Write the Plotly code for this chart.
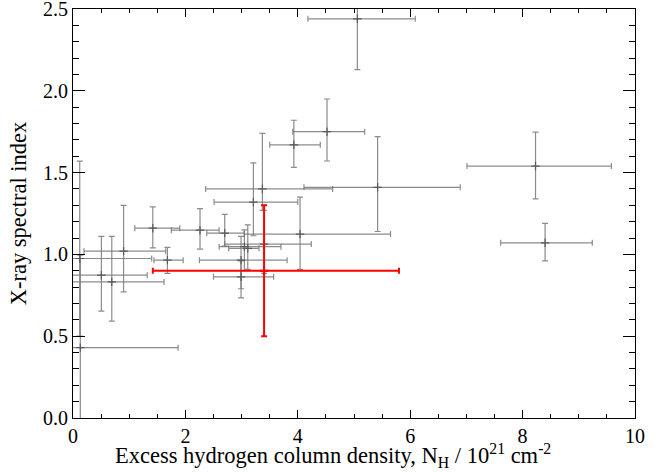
import plotly.graph_objects as go

# Gray sample: centre, x error range, y error range
nh      = [5.06, 4.52, 3.93, 8.23, 5.42, 3.37, 3.21, 4.04, 2.26, 2.70, 8.40, 1.42, 0.90, 0.505, 0.69, 1.68, 0.12, 0.13, 3.40, 3.11, 3.05, 2.99, 2.99]
gamma   = [2.44, 1.75, 1.67, 1.54, 1.41, 1.40, 1.32, 1.124, 1.148, 1.13, 1.071, 1.16, 1.02, 0.873, 0.832, 0.965, 0.975, 0.43, 1.063, 1.037, 1.047, 0.965, 0.863]
nh_lo   = [4.18, 3.91, 3.50, 7.01, 4.11, 2.36, 2.51, 3.05, 1.75, 2.38, 7.61, 1.10, 0.196, -0.10, -0.10, 1.44, -0.10, -0.10, 2.70, 2.77, 2.60, 2.25, 2.50]
nh_hi   = [6.09, 5.19, 4.40, 9.58, 6.89, 4.62, 4.00, 5.65, 2.60, 3.05, 9.24, 1.90, 1.65, 1.32, 1.62, 1.96, 1.40, 1.87, 4.24, 3.31, 3.70, 3.81, 3.57]
gam_lo  = [2.13, 1.571, 1.532, 1.34, 1.14, 1.27, 1.114, 0.908, 1.032, 1.05, 0.96, 1.04, 0.771, 0.653, 0.592, 0.884, 0.50, -0.10, 0.884, 0.908, 0.90, 0.79, 0.734]
gam_hi  = [2.78, 1.95, 1.82, 1.748, 1.72, 1.74, 1.56, 1.35, 1.28, 1.245, 1.19, 1.29, 1.30, 1.11, 1.11, 1.043, 1.57, 0.995, 1.27, 1.18, 1.15, 1.11, 0.96]

# Highlighted (red) object
red_nh, red_gamma = [3.40], [0.90]
red_nh_lo, red_nh_hi = [1.42], [5.80]
red_gam_lo, red_gam_hi = [0.50], [1.30]

x_ticks = [0, 2, 4, 6, 8, 10]
y_ticks = [0.0, 0.5, 1.0, 1.5, 2.0, 2.5]
y_ticklabels = ["0.0", "0.5", "1.0", "1.5", "2.0", "2.5"]

x_title = "Excess hydrogen column density, N<sub>H</sub> / 10<sup>21</sup> cm<sup>-2</sup>"
y_title = "X-ray spectral index"

gray = "rgba(120,120,120,0.85)"

fig = go.Figure()
fig.add_trace(go.Scatter(
    x=nh, y=gamma, mode="markers",
    marker=dict(symbol="cross-thin", size=6, line=dict(width=1.2, color="rgb(90,90,90)")),
    error_x=dict(type="data", symmetric=False,
                 array=[h - c for h, c in zip(nh_hi, nh)],
                 arrayminus=[c - l for l, c in zip(nh_lo, nh)],
                 color=gray, thickness=1.2, width=3),
    error_y=dict(type="data", symmetric=False,
                 array=[h - c for h, c in zip(gam_hi, gamma)],
                 arrayminus=[c - l for l, c in zip(gam_lo, gamma)],
                 color=gray, thickness=1.2, width=3),
    showlegend=False, hoverinfo="skip"))

fig.add_trace(go.Scatter(
    x=red_nh, y=red_gamma, mode="markers",
    marker=dict(symbol="cross-thin", size=6, line=dict(width=2, color="red")),
    error_x=dict(type="data", symmetric=False,
                 array=[h - c for h, c in zip(red_nh_hi, red_nh)],
                 arrayminus=[c - l for l, c in zip(red_nh_lo, red_nh)],
                 color="red", thickness=2, width=3),
    error_y=dict(type="data", symmetric=False,
                 array=[h - c for h, c in zip(red_gam_hi, red_gamma)],
                 arrayminus=[c - l for l, c in zip(red_gam_lo, red_gamma)],
                 color="red", thickness=2, width=3),
    showlegend=False, hoverinfo="skip"))

font_family = "Liberation Serif"
fig.update_layout(
    width=665, height=472,
    margin=dict(l=73, r=30, t=9, b=54, autoexpand=False),
    paper_bgcolor="white", plot_bgcolor="white",
    font=dict(family=font_family, size=20, color="black"),
)
# x-axis title centred on the page (as in the original figure)
fig.add_annotation(
    text=x_title, xref="paper", yref="paper",
    x=(333 - 73) / (665 - 73 - 30), y=0, xanchor="center", yanchor="middle",
    yshift=-37, showarrow=False, font=dict(size=22.5, family=font_family, color="black"),
)
fig.update_xaxes(
    range=[0, 10], tickvals=x_ticks, ticktext=[str(v) for v in x_ticks],
    ticks="inside", ticklen=8, tickwidth=1, tickcolor="black",
    minor=dict(dtick=0.5, ticks="inside", ticklen=4, tickcolor="black", tickwidth=1),
    showline=True, linecolor="black", linewidth=1, mirror="ticks",
    showgrid=False, zeroline=False, automargin=False,
    tickfont=dict(size=20), ticklabeloverflow="allow",
)
fig.update_yaxes(
    range=[0, 2.5], tickvals=y_ticks, ticktext=y_ticklabels,
    ticks="inside", ticklen=12, tickwidth=1, tickcolor="black",
    minor=dict(dtick=0.1, ticks="inside", ticklen=6, tickcolor="black", tickwidth=1),
    showline=True, linecolor="black", linewidth=1, mirror="ticks",
    showgrid=False, zeroline=False, automargin=False,
    tickfont=dict(size=20), ticklabeloverflow="allow",
    title=dict(text=y_title, font=dict(size=22.5), standoff=10),
)

fig.write_html("out.html", config={"displayModeBar": False},
               post_script="document.body.style.margin='0px';")
